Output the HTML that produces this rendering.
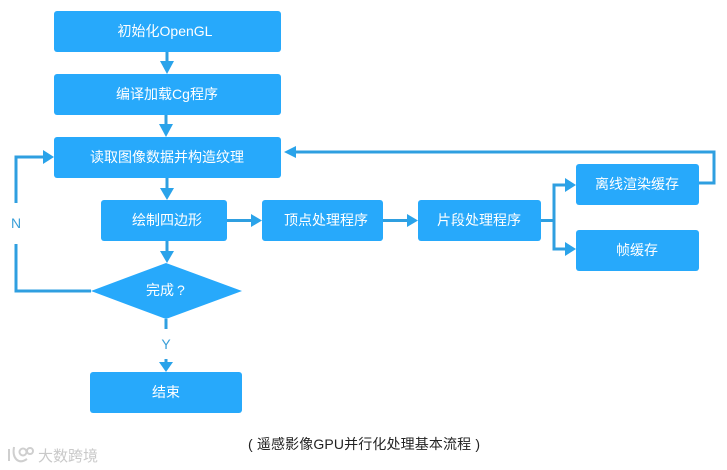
<!DOCTYPE html>
<html><head><meta charset="utf-8"><style>
html,body{margin:0;padding:0;background:#fff}
svg{display:block}
text{font-family:"Liberation Sans","Noto Sans CJK SC",sans-serif}
.t{fill:#fff;font-size:14px;text-anchor:middle}
</style></head><body>
<svg width="727" height="470" viewBox="0 0 727 470">
<g fill="#27a9fb">
<rect x="54" y="11" width="227" height="41" rx="3"/>
<rect x="54" y="74" width="227" height="41" rx="3"/>
<rect x="54" y="137" width="227" height="41" rx="3"/>
<rect x="101" y="200" width="126" height="41" rx="3"/>
<rect x="262" y="200" width="121" height="41" rx="3"/>
<rect x="418" y="200" width="123" height="41" rx="3"/>
<rect x="576" y="164" width="123" height="41" rx="3"/>
<rect x="576" y="230" width="123" height="41" rx="3"/>
<rect x="90" y="372" width="152" height="41" rx="3"/>
<polygon points="91,291 166,263 242,291 166,319"/>
</g>
<g fill="none" stroke="#2f9fe0" stroke-width="3">
<path d="M167 52V62M166 115V125M167 178V190M167 241V252"/>
<path d="M227 220.500H252M383 220.500H408"/>
<path d="M541 220.500H554M554 185V249M552.500 185H566M552.500 249H566"/>
<path d="M699 183H714V152H294"/>
<path d="M16 203V157H44M16 244V291H91"/>
<path d="M166 319V329M166 359V364"/>
</g>
<g fill="#2aa3ea">
<polygon points="160,61 174,61 167,74"/>
<polygon points="159,124 173,124 166,137"/>
<polygon points="160,188 174,188 167,200"/>
<polygon points="160,251 174,251 167,263"/>
<polygon points="251,214 262,220.500 251,227"/>
<polygon points="407,214 418,220.500 407,227"/>
<polygon points="565,178 576,185 565,192"/>
<polygon points="565,242 576,249 565,256"/>
<polygon points="296,146 284,152 296,158"/>
<polygon points="43,150 54,157 43,164"/>
<polygon points="159,362 173,362 166,372"/>
</g>
<text class="t" x="165" y="36">初始化OpenGL</text>
<text class="t" x="167" y="99">编译加载Cg程序</text>
<text class="t" x="167" y="162">读取图像数据并构造纹理</text>
<text class="t" x="167" y="225">绘制四边形</text>
<text class="t" x="326" y="225">顶点处理程序</text>
<text class="t" x="479" y="225">片段处理程序</text>
<text class="t" x="637" y="189">离线渲染缓存</text>
<text class="t" x="637" y="255">帧缓存</text>
<text x="146" y="295" font-size="14" fill="#fff">完成</text>
<text x="177" y="295" font-size="14" fill="#fff">?</text>
<text class="t" x="166" y="397">结束</text>
<text x="16" y="228" font-size="14" fill="#3a9fd8" text-anchor="middle">N</text>
<text x="166" y="349" font-size="14" fill="#3a9fd8" text-anchor="middle">Y</text>
<text x="248" y="449" font-size="14" fill="#222" textLength="232">( 遥感影像GPU并行化处理基本流程 )</text>
<text x="38" y="461" font-size="15" fill="#c9c9c9">大数跨境</text>
<g fill="none" stroke="#cfcfcf" stroke-width="2">
<path d="M9 449V461M14 447C12 458 18 465 27 459"/>
<circle cx="23" cy="452" r="3.500"/>
<circle cx="30" cy="451" r="3"/>
</g>
</svg>
</body></html>
